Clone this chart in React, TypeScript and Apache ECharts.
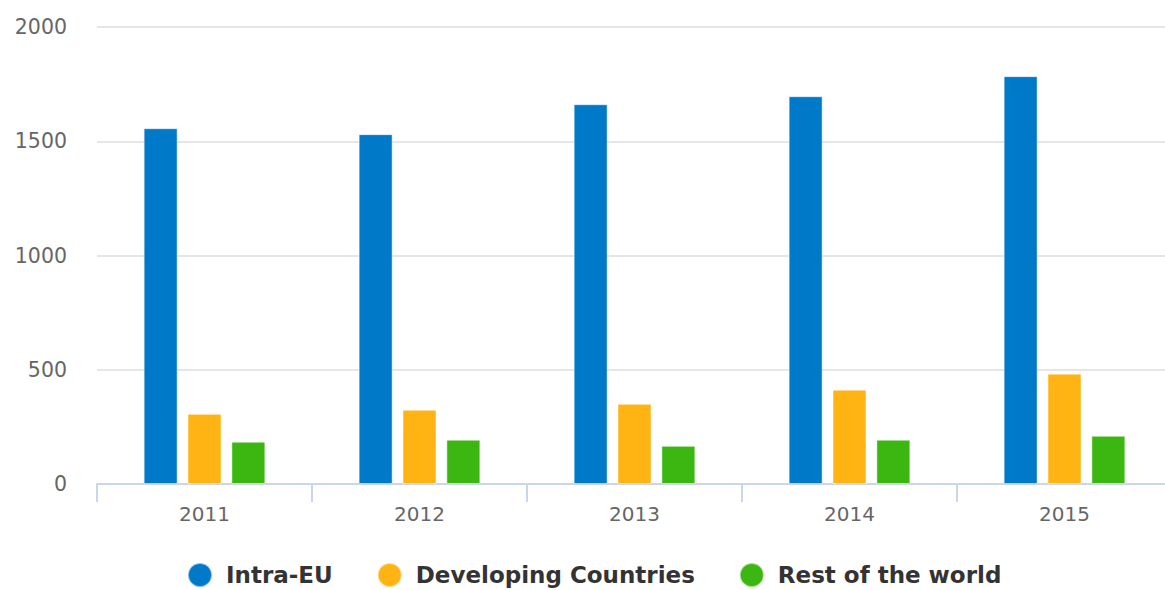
import React, { useEffect, useRef } from "react";
import * as echarts from "echarts";

const categories = ["2011", "2012", "2013", "2014", "2015"];
const intraEU = [1557, 1531, 1662, 1697, 1785];
const developing = [307, 325, 351, 413, 483];
const restOfWorld = [185, 194, 167, 194, 211];
const seriesNames = ["Intra-EU", "Developing Countries", "Rest of the world"];
const colors = ["#0079c8", "#ffb414", "#3cb711"];

export default function App() {
  const ref = useRef<HTMLDivElement>(null);
  useEffect(() => {
    if (!ref.current) return;
    const chart = echarts.init(ref.current, null, { renderer: "svg" });
    const font = "DejaVu Sans";
    const mk = (name: string, data: number[], color: string) => ({
      name,
      type: "bar",
      data,
      barWidth: 34,
      barGap: "29%",
      itemStyle: { color, borderColor: "rgba(255,255,255,0.5)", borderWidth: 1 },
    });
    chart.setOption({
      animation: false,
      color: colors,
      grid: { left: 97, right: 8, top: 27, height: 457, containLabel: false },
      legend: {
        left: 187,
        top: 562,
        padding: 0,
        icon: "circle",
        itemWidth: 24,
        itemHeight: 24,
        itemGap: 44,
        textStyle: {
          fontFamily: font,
          fontWeight: "bold",
          fontSize: 23,
          color: "#333333",
          padding: [0, 0, 0, 9],
        },
        data: seriesNames,
      },
      xAxis: {
        type: "category",
        data: categories,
        axisLine: { lineStyle: { color: "#ccd6eb", width: 2 } },
        axisTick: { show: true, length: 18, lineStyle: { color: "#ccd6eb", width: 2 } },
        axisLabel: { color: "#666666", fontFamily: font, fontSize: 20, margin: 20 },
      },
      yAxis: {
        type: "value",
        min: 0,
        max: 2000,
        interval: 500,
        axisLine: { show: false },
        axisTick: { show: false },
        splitLine: { lineStyle: { color: "#e6e6e6", width: 2 } },
        axisLabel: {
          color: "#666666",
          fontFamily: font,
          fontSize: 20.5,
          margin: 30,
          formatter: (v: number) => String(v),
        },
      },
      series: [
        mk(seriesNames[0], intraEU, colors[0]),
        mk(seriesNames[1], developing, colors[1]),
        mk(seriesNames[2], restOfWorld, colors[2]),
      ],
    });
    return () => chart.dispose();
  }, []);
  return (
    <div style={{ position: "fixed", left: 0, top: 0, width: 1165, height: 590, overflow: "hidden", background: "#fff" }}>
      <div ref={ref} style={{ width: 1180, height: 590 }} />
    </div>
  );
}
